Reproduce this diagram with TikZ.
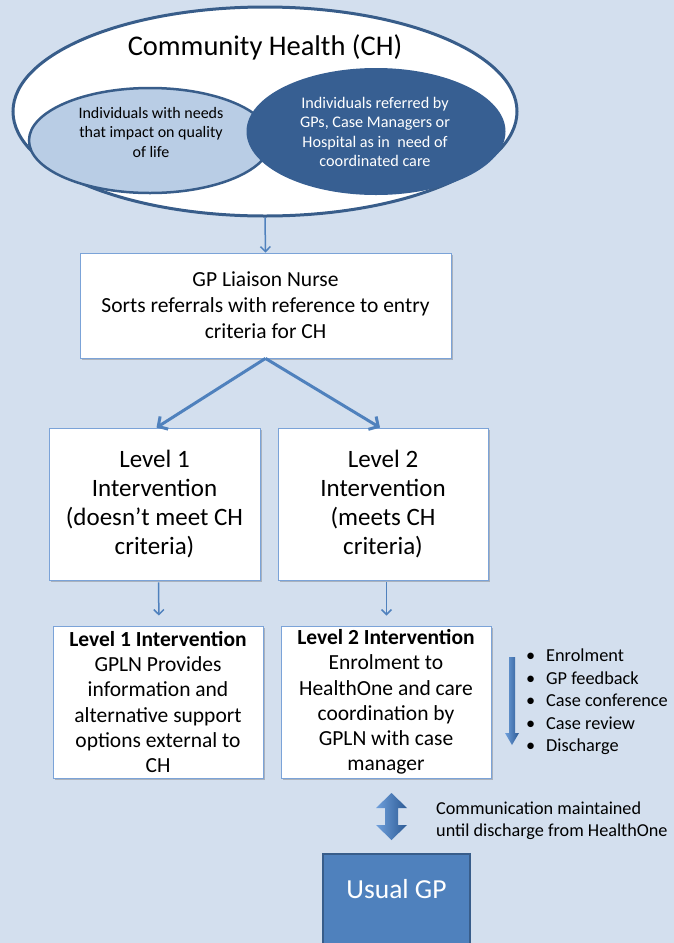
\documentclass[tikz,border=0pt]{standalone}
\usepackage{fontspec}
\setmainfont{Carlito}
\usetikzlibrary{arrows.meta,shadows,shapes.geometric}
\definecolor{bgc}{HTML}{D3DFEE}
\definecolor{dkb}{HTML}{385D8A}
\definecolor{dkfill}{HTML}{375F92}
\definecolor{ltb}{HTML}{B9CDE5}
\definecolor{boxline}{HTML}{7BA3D8}
\definecolor{arrc}{HTML}{4F81BD}
\definecolor{gpfill}{HTML}{4F81BD}
\definecolor{gradA}{HTML}{6FA0DC}
\definecolor{gradB}{HTML}{2C5A94}
\newcommand\fsz[2]{\fontsize{#1}{#2}\selectfont}
\begin{document}
\begin{tikzpicture}[x=1pt,y=-1pt,
  every node/.style={inner sep=0pt},
  wbox/.style={draw=boxline, line width=0.8pt, fill=white, align=center,
    drop shadow={shadow xshift=1.5pt, shadow yshift=-2pt, opacity=0.3, fill=black!70}},
  thinarr/.style={draw=arrc, line width=1.5pt, -{Straight Barb[length=5pt,width=10pt]}},
  thickarr/.style={draw=arrc, line width=3pt, -{Straight Barb[length=7pt,width=15pt]}}]
\fill[bgc] (0,0) rectangle (674,943);
\useasboundingbox (0,0) rectangle (674,943);

% Venn part
\node[ellipse, draw=dkb, line width=3pt, fill=white, minimum width=504pt, minimum height=209pt] (outer) at (265,111.5) {};
\node[font=\fsz{28.5}{32}] (title) at (265,47) {Community Health (CH)};
\node[ellipse, draw=dkb, line width=2.5pt, fill=ltb, minimum width=242pt, minimum height=105pt] (lefte) at (150,140.5) {};
\node[ellipse, fill=dkfill, minimum width=259pt, minimum height=127pt] (righte) at (376,131.5) {};
\node[align=center, font=\fsz{16}{19.5}] (lt) at (151,132) {Individuals with needs\\that impact on quality\\of life};
\node[align=center, font=\fsz{16.2}{19.5}, text=white] (rt) at (375,132) {Individuals referred by\\GPs, Case Managers or\\Hospital as in\ \ need of\\coordinated care};

% GP liaison
\node[wbox, minimum width=371pt, minimum height=105pt, font=\fsz{21.5}{26}] (gpln) at (265.5,305.5) {GP Liaison Nurse\\Sorts referrals with reference to entry\\criteria for CH};
\draw[thinarr] (outer.south) -- (gpln.north);

% Level boxes
\node[wbox, minimum width=211pt, minimum height=152pt, font=\fsz{25}{29}] (l1) at (154.5,504) {Level 1\\Intervention\\(doesn’t meet CH\\criteria)};
\node[wbox, minimum width=210pt, minimum height=152pt, font=\fsz{25}{29}] (l2) at (383,504) {Level 2\\Intervention\\(meets CH\\criteria)};
\draw[thickarr] (gpln.south) -- ([xshift=2pt]l1.north);
\draw[thickarr] (gpln.south) -- ([xshift=-3pt]l2.north);

% Intervention boxes
\node[wbox, minimum width=210pt, minimum height=152pt, font=\fsz{21.5}{25.3}] (i1) at (158,702) {\textbf{Level 1 Intervention}\\GPLN Provides\\information and\\alternative support\\options external to\\CH};
\node[wbox, minimum width=210pt, minimum height=152pt, font=\fsz{21.5}{25.3}] (i2) at (386,702) {\textbf{Level 2 Intervention}\\Enrolment to\\HealthOne and care\\coordination by\\GPLN with case\\manager};
\draw[thinarr, shorten <=2pt, shorten >=10pt] ([xshift=4pt]l1.south) -- ([xshift=1pt]i1.north);
\draw[thinarr, shorten <=2pt, shorten >=10pt] ([xshift=3.5pt]l2.south) -- ([xshift=0.5pt]i2.north);

% bullet list with gradient arrow
\shade[left color=gradA, right color=gradB] (509,657) -- (515,657) -- (515,733) -- (519,733) -- (512,745) -- (505,733) -- (509,733) -- cycle;
\node[anchor=west, align=left, font=\fsz{18.3}{22.4}] (steps) at (526,702)
  {\makebox[20pt][l]{\textbullet}Enrolment\\
   \makebox[20pt][l]{\textbullet}GP feedback\\
   \makebox[20pt][l]{\textbullet}Case conference\\
   \makebox[20pt][l]{\textbullet}Case review\\
   \makebox[20pt][l]{\textbullet}Discharge};

% double arrow and usual GP
\shade[left color=gradA, right color=gradB] (391.5,793) -- (407,808) -- (398,808) -- (398,825) -- (407,825) -- (391.5,840) -- (376,825) -- (385,825) -- (385,808) -- (376,808) -- cycle;
\node[anchor=west, align=left, font=\fsz{18.2}{22}] (comm) at (436,821) {Communication maintained\\until discharge from HealthOne};
\node[draw=dkb, line width=2pt, fill=gpfill, text=white, font=\fsz{27.5}{30}, anchor=north,
  minimum width=147pt, text height=18pt, text depth=40pt, inner ysep=26pt] (usual) at (396.5,853) {Usual GP};
\end{tikzpicture}
\end{document}
